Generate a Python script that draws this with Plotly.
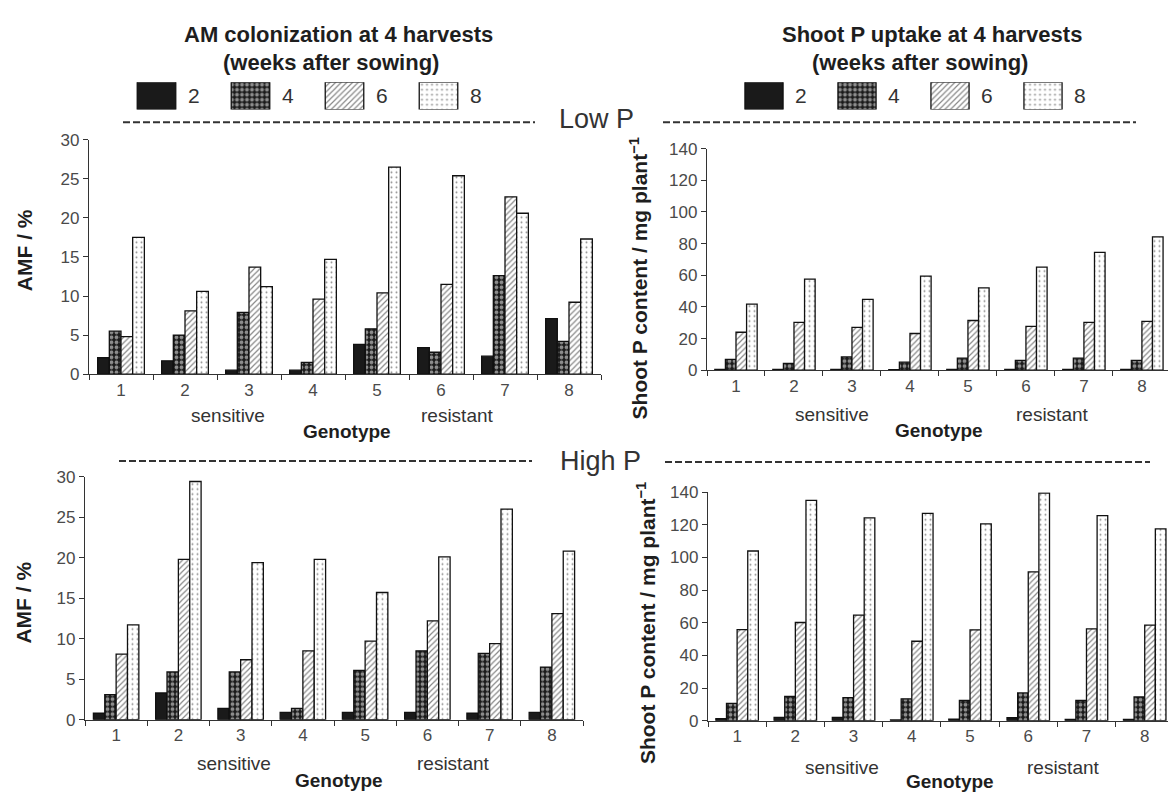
import plotly.graph_objects as go

W, H = 1168, 801

genotypes = ["1", "2", "3", "4", "5", "6", "7", "8"]
weeks = ["2", "4", "6", "8"]

# Low P, AM colonization (%)
amf_low_w2 = [2.1, 1.7, 0.5, 0.5, 3.8, 3.4, 2.3, 7.1]
amf_low_w4 = [5.5, 5.0, 7.9, 1.5, 5.8, 2.8, 12.6, 4.2]
amf_low_w6 = [4.8, 8.1, 13.7, 9.6, 10.4, 11.5, 22.7, 9.2]
amf_low_w8 = [17.5, 10.6, 11.2, 14.7, 26.5, 25.4, 20.6, 17.3]

# Low P, shoot P content (mg/plant)
sp_low_w2 = [0.6, 0.5, 0.5, 0.4, 0.5, 0.5, 0.5, 0.5]
sp_low_w4 = [6.8, 4.3, 8.4, 5.1, 7.6, 6.2, 7.6, 6.2]
sp_low_w6 = [24.0, 30.2, 27.1, 23.2, 31.4, 27.7, 30.2, 30.8]
sp_low_w8 = [41.7, 57.5, 44.8, 59.5, 52.0, 65.1, 74.5, 84.2]

# High P, AM colonization (%)
amf_high_w2 = [0.8, 3.3, 1.4, 0.9, 0.9, 0.9, 0.8, 0.9]
amf_high_w4 = [3.1, 5.9, 5.9, 1.4, 6.1, 8.5, 8.2, 6.5]
amf_high_w6 = [8.1, 19.8, 7.4, 8.5, 9.7, 12.2, 9.4, 13.1]
amf_high_w8 = [11.7, 29.4, 19.4, 19.8, 15.7, 20.1, 26.0, 20.8]

# High P, shoot P content (mg/plant)
sp_high_w2 = [1.2, 2.0, 2.0, 0.5, 1.0, 1.8, 0.8, 0.8]
sp_high_w4 = [10.6, 14.9, 14.1, 13.4, 12.4, 17.0, 12.4, 14.6]
sp_high_w6 = [55.8, 60.2, 64.7, 48.7, 55.7, 91.2, 56.3, 58.6]
sp_high_w8 = [104.0, 135.0, 124.3, 127.0, 120.6, 139.5, 125.7, 117.6]

FONT = "Arial, 'Liberation Sans', sans-serif"
INK = "#1e1e1e"
TICK = "#4a4a4a"


def fx(p):
    return p / W


def fy(p):
    return 1 - p / H


def style(week):
    line = dict(color="#111111", width=1.3)
    if week == "2":
        return dict(color="#1a1a1a", line=line)
    if week == "4":
        return dict(color="#1a1a1a", line=line,
                    pattern=dict(shape=".", fgcolor="white", bgcolor="#1a1a1a",
                                 size=5, solidity=0.45))
    if week == "6":
        return dict(color="white", line=line,
                    pattern=dict(shape="/", fgcolor="#111111", bgcolor="white",
                                 size=4, solidity=0.3))
    return dict(color="white", line=line,
                pattern=dict(shape=".", fgcolor="#222222", bgcolor="white",
                             size=5, solidity=0.12))


panels = [
    ("x", "y", [amf_low_w2, amf_low_w4, amf_low_w6, amf_low_w8]),
    ("x2", "y2", [sp_low_w2, sp_low_w4, sp_low_w6, sp_low_w8]),
    ("x3", "y3", [amf_high_w2, amf_high_w4, amf_high_w6, amf_high_w8]),
    ("x4", "y4", [sp_high_w2, sp_high_w4, sp_high_w6, sp_high_w8]),
]

fig = go.Figure()
for xa, ya, series in panels:
    for wk, vals in zip(weeks, series):
        fig.add_trace(go.Bar(x=genotypes, y=vals, xaxis=xa, yaxis=ya,
                             name=wk, marker=style(wk), showlegend=False,
                             hoverinfo="x+y+name"))

# legend swatches drawn as bars on helper axes
for xa, ya in [("x5", "y5"), ("x6", "y6")]:
    for wk in weeks:
        fig.add_trace(go.Bar(x=[wk], y=[1], xaxis=xa, yaxis=ya, width=0.41,
                             offset=-0.205, marker=style(wk), showlegend=False,
                             hoverinfo="skip"))


def xax(d0, d1, rng, yanchor):
    return dict(domain=[d0, d1], type="category", range=rng, anchor=yanchor,
                tickson="boundaries", ticks="outside", ticklen=5,
                tickcolor="#333", tickwidth=1.2, showline=True,
                linecolor="#333", linewidth=1.3, showgrid=False,
                zeroline=False, tickfont=dict(family=FONT, size=17, color=TICK))


def yax(d0, d1, top, step, xanchor):
    return dict(domain=[d0, d1], range=[0, top], anchor=xanchor,
                tickmode="linear", tick0=0, dtick=step, ticks="outside",
                ticklen=5, tickcolor="#333", tickwidth=1.2, showline=True,
                linecolor="#333", linewidth=1.3, showgrid=False,
                zeroline=False, tickfont=dict(family=FONT, size=17, color=TICK))


def hidden(d0, d1, rng, anchor, cat=False):
    d = dict(domain=[d0, d1], range=rng, anchor=anchor, visible=False,
             fixedrange=True)
    if cat:
        d["type"] = "category"
    return d


layout = dict(
    width=W, height=H,
    margin=dict(l=0, r=0, t=0, b=0),
    paper_bgcolor="white", plot_bgcolor="white",
    barmode="group", bargap=0.27, bargroupgap=0,
    showlegend=False,
    xaxis=xax(fx(89), fx(601), [-0.5, 7.5], "y"),
    yaxis=yax(fy(374), fy(134), 30, 5, "x"),
    xaxis2=xax(fx(707), 1.0, [-0.5, 7.45], "y2"),
    yaxis2=yax(fy(370), fy(143), 140, 20, "x2"),
    xaxis3=xax(fx(85), fx(583), [-0.5, 7.5], "y3"),
    yaxis3=yax(fy(728), fy(479), 30, 5, "x3"),
    xaxis4=xax(fx(708), 1.0, [-0.5, 7.4], "y4"),
    yaxis4=yax(fy(729), fy(495), 140, 20, "x4"),
    xaxis5=hidden(fx(109.5), fx(485.5), [-0.5, 3.5], "y5", cat=True),
    yaxis5=hidden(fy(103), fy(75), [0, 1], "x5"),
    xaxis6=hidden(fx(717.5), fx(1089.5), [-0.5, 3.5], "y6", cat=True),
    yaxis6=hidden(fy(103), fy(75), [0, 1], "x6"),
)

annotations = []


def txt(text, x, y, size, bold=False, color=INK, angle=0):
    annotations.append(dict(
        text=f"<b>{text}</b>" if bold else text,
        x=fx(x), y=fy(y), xref="paper", yref="paper",
        xanchor="center", yanchor="middle", showarrow=False,
        textangle=angle, font=dict(family=FONT, size=size, color=color)))


# titles
txt("AM colonization at 4 harvests", 338, 26, 22, bold=True)
txt("(weeks after sowing)", 331, 55, 22, bold=True)
txt("Shoot P uptake at 4 harvests", 932, 26, 22, bold=True)
txt("(weeks after sowing)", 920, 55, 22, bold=True)

# legend labels (placed next to each swatch on the helper axes)
for xa, ya in [("x5", "y5"), ("x6", "y6")]:
    for i, wk in enumerate(weeks):
        annotations.append(dict(
            text=wk, x=i, y=0.5, xref=xa, yref=ya,
            xanchor="left", yanchor="middle", xshift=29, showarrow=False,
            font=dict(family=FONT, size=21, color="#333")))

# phosphorus level labels
txt("Low P", 596, 113, 27, color="#333")
txt("High P", 600, 463, 27, color="#333")

# y titles
txt("AMF / %", 24, 247, 21, bold=True, angle=-90)
txt("AMF / %", 24, 608, 21, bold=True, angle=-90)
txt("Shoot P content / mg plant<sup>−1</sup>", 639, 276, 21, bold=True, angle=-90)
txt("Shoot P content / mg plant<sup>−1</sup>", 646, 629, 21, bold=True, angle=-90)

# group labels + x titles
for (sx, rx, gx, y0, gy) in [(228, 457, 347, 416, 433), (832, 1052, 939, 415, 432),
                             (234, 453, 339, 773, 790), (842, 1063, 950, 777, 791)]:
    txt("sensitive", sx, y0, 19, color="#333")
    txt("resistant", rx, y0, 19, color="#333")
    txt("Genotype", gx, gy, 19, bold=True)

layout["annotations"] = annotations

shapes = []
for x0, x1, y in [(123, 535, 116), (663, 1136, 116), (119, 532, 463), (665, 1150, 464)]:
    shapes.append(dict(type="line", xref="paper", yref="paper",
                       x0=fx(x0), x1=fx(x1), y0=fy(y), y1=fy(y),
                       line=dict(color="#333", width=2.2, dash="7px,3px")))
layout["shapes"] = shapes

fig.update_layout(**layout)
fig.write_html(
    "out.html",
    config={"displayModeBar": False},
    post_script="document.body.style.margin='0';document.body.style.padding='0';"
                "document.documentElement.style.overflow='hidden';",
)
